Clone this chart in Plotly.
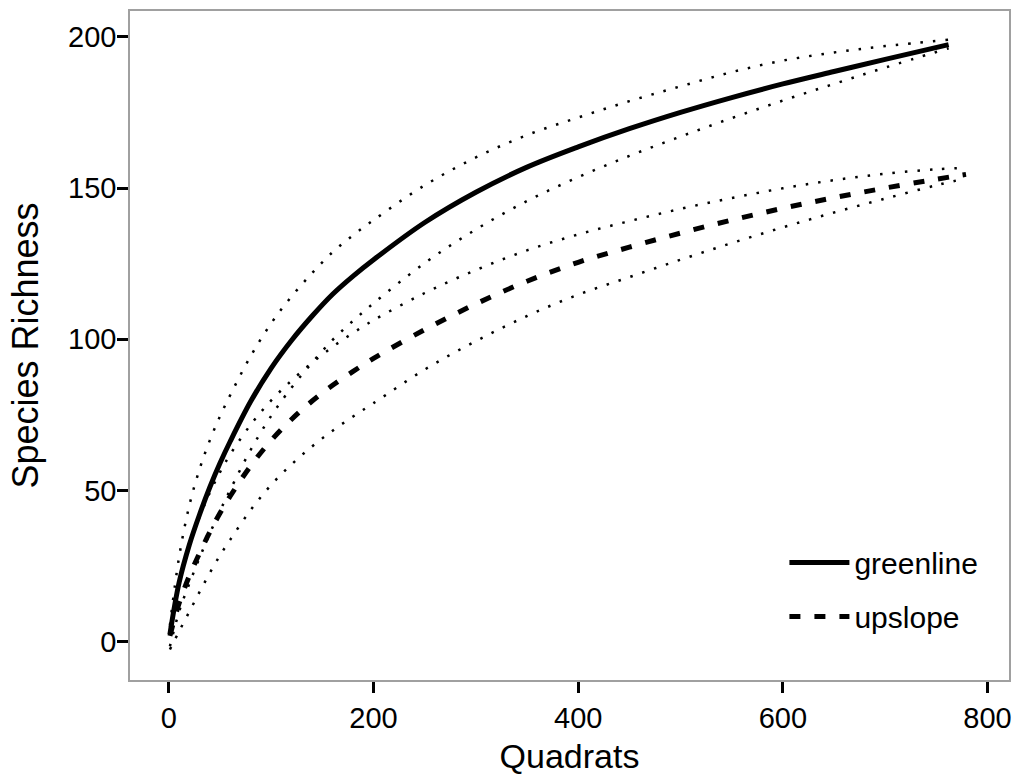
import plotly.graph_objects as go

# ---- data ----
green_x = [1, 10, 20, 30, 40, 50, 60, 80, 100, 120, 140, 160, 180, 200, 250, 300,
           350, 400, 450, 500, 550, 600, 650, 700, 762]
green_mean = [2.5, 19.6, 32.1, 42.1, 51.1, 59.1, 66.3, 79.5, 90.5, 99.7, 107.7, 114.9,
              120.9, 126.3, 138.6, 148.6, 156.9, 163.6, 169.6, 175.0, 179.9, 184.4,
              188.5, 192.5, 197.4]
green_upper = [5.5, 28.1, 45.1, 57.1, 66.6, 74.6, 81.6, 94.5, 105.3, 114.2, 121.9, 128.8,
               134.4, 139.4, 150.9, 160.1, 167.5, 173.3, 178.7, 183.6, 188.3, 192.1,
               194.8, 196.9, 199.0]
green_lower = [-1.5, 10.0, 19.3, 27.8, 35.8, 43.3, 50.3, 63.5, 74.7, 84.1, 92.3, 99.8,
               106.1, 111.9, 125.2, 136.3, 145.7, 153.6, 160.6, 167.0, 173.1, 178.9,
               184.4, 189.8, 196.2]

up_x = [1, 10, 20, 30, 40, 50, 60, 80, 100, 120, 140, 160, 180, 200, 250, 300,
        350, 400, 450, 500, 550, 600, 650, 700, 750, 779]
up_mean = [2.0, 12.8, 21.8, 29.3, 36.3, 42.6, 48.2, 58.2, 66.6, 73.6, 79.6, 84.8, 89.4,
           93.7, 103.2, 111.7, 119.2, 125.45, 130.45, 135.1, 139.4, 143.3, 146.8,
           150.0, 152.9, 154.5]
up_upper = [5.0, 19.8, 31.8, 41.3, 49.3, 56.1, 62.0, 71.8, 79.8, 86.4, 92.3, 97.5, 102.1,
            106.3, 115.3, 122.9, 129.4, 134.65, 139.05, 143.1, 146.7, 149.9, 152.6,
            154.7, 156.2, 156.7]
up_lower = [-2.5, 3.5, 10.0, 16.5, 22.8, 28.6, 33.8, 43.6, 51.9, 58.7, 64.6, 69.8, 74.5,
            78.9, 90.0, 99.4, 107.7, 114.75, 120.55, 126.3, 131.8, 137.0, 141.9, 146.5,
            150.9, 153.2]

series_names = ["greenline", "upslope"]
x_ticks = [0, 200, 400, 600, 800]
y_ticks = [0, 50, 100, 150, 200]

FONT = "Liberation Sans, Arial, sans-serif"
dot = dict(color="black", width=2.5, dash="2.5px,10px", shape="spline")

fig = go.Figure()
# confidence bands (dotted)
for xs, ys in [(green_x, green_upper), (green_x, green_lower),
               (up_x, up_upper), (up_x, up_lower)]:
    fig.add_trace(go.Scatter(x=xs, y=ys, mode="lines", line=dot,
                             showlegend=False, hoverinfo="skip"))
# means
fig.add_trace(go.Scatter(x=green_x, y=green_mean, mode="lines", name=series_names[0],
                         legendgroup="g1",
                         line=dict(color="black", width=5, shape="spline")))
fig.add_trace(go.Scatter(x=up_x, y=up_mean, mode="lines", name=series_names[1],
                         legendgroup="g2",
                         line=dict(color="black", width=5, dash="11px,14px", shape="spline")))

axis_common = dict(
    showgrid=False, zeroline=False,
    showline=True, mirror=True, linecolor="#a0a0a0", linewidth=1.5,
    ticks="outside", ticklen=11, tickwidth=2.5, tickcolor="black",
    tickfont=dict(family=FONT, size=29, color="black"),
)
fig.update_xaxes(range=[-38, 821], tickvals=x_ticks,
                 title=dict(text="Quadrats", font=dict(family=FONT, size=34, color="black"),
                            standoff=12),
                 **axis_common)
fig.update_yaxes(range=[-12.6, 208.5], tickvals=y_ticks, ticklabelstandoff=-5,
                 title=dict(text="Species Richness", font=dict(family=FONT, size=36, color="black"),
                            standoff=18),
                 **axis_common)

fig.update_layout(
    width=1021, height=778,
    margin=dict(l=130, r=11, t=9, b=98),
    paper_bgcolor="white", plot_bgcolor="white",
    font=dict(family=FONT, color="black"),
    legend=dict(x=0.7445, y=0.2146, xanchor="left", yanchor="top",
                font=dict(family=FONT, size=30, color="black"),
                bgcolor="rgba(0,0,0,0)", itemwidth=60,
                traceorder="grouped", tracegroupgap=12),
)

fig.write_html("out.html")
